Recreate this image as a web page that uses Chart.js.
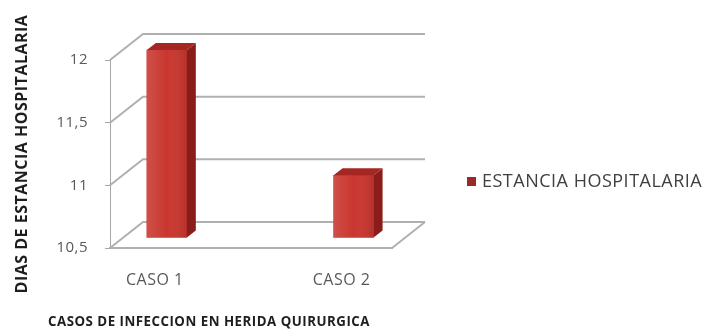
<!DOCTYPE html>
<html>
<head>
<meta charset="utf-8">
<script src="https://cdn.jsdelivr.net/npm/chart.js@4.4.1/dist/chart.umd.min.js"></script>
<style>
  html, body { margin: 0; padding: 0; background: #fff; }
</style>
</head>
<body>
<canvas id="estanciaChart" width="704" height="331"></canvas>
<script>
const categories = ["CASO 1", "CASO 2"];
const estanciaDias = [12, 11];
const seriesLabel = "ESTANCIA HOSPITALARIA";
const yTickValues = [10.5, 11, 11.5, 12];
const yTickLabels = ["10,5", "11", "11,5", "12"];
const yTitle = "DIAS DE ESTANCIA HOSPITALARIA";
const xTitle = "CASOS DE INFECCION EN HERIDA QUIRURGICA";

// fake 3d: back wall offset, bar shift into depth, bar thickness in depth
const wallDx = 33, wallDy = -26;
const barShiftX = 12, barShiftY = -10;
const barDepthX = 9, barDepthY = -7;

Chart.defaults.font.family = "'Open Sans', 'Liberation Sans', sans-serif";

const fake3d = {
  id: "fake3d",
  beforeUpdate(chart) {
    chart.ctx.letterSpacing = "0.5px";
  },
  beforeDraw(chart) {
    chart.ctx.letterSpacing = "0.5px";
  },
  beforeDatasetsDraw(chart) {
    const { ctx, chartArea: a, scales: { y } } = chart;
    ctx.save();
    ctx.strokeStyle = "#b0b0b0";
    ctx.lineWidth = 2;
    yTickValues.forEach((v) => {
      const py = y.getPixelForValue(v);
      ctx.beginPath();
      ctx.moveTo(a.left, py);
      ctx.lineTo(a.left + wallDx, py + wallDy);
      ctx.lineTo(a.right + wallDx, py + wallDy);
      ctx.stroke();
    });
    ctx.beginPath();
    ctx.moveTo(a.right, a.bottom);
    ctx.lineTo(a.right + wallDx, a.bottom + wallDy);
    ctx.stroke();
    ctx.restore();

    // bars sit in the middle of the depth
    ctx.save();
    ctx.translate(barShiftX, barShiftY);
  },
  afterDatasetsDraw(chart) {
    const { ctx } = chart;
    chart.getDatasetMeta(0).data.forEach((bar) => {
      const p = bar.getProps(["x", "y", "base", "width"], true);
      const l = p.x - p.width / 2, r = p.x + p.width / 2;
      // soft shading on the front face
      const g = ctx.createLinearGradient(l, 0, r, 0);
      g.addColorStop(0, "rgba(255,255,255,0.12)");
      g.addColorStop(0.5, "rgba(255,255,255,0)");
      g.addColorStop(1, "rgba(0,0,0,0.10)");
      ctx.fillStyle = g;
      ctx.fillRect(l, p.y, p.width, p.base - p.y);
      ctx.fillStyle = "#8a1d1a";
      ctx.beginPath();
      ctx.moveTo(r, p.y);
      ctx.lineTo(r + barDepthX, p.y + barDepthY);
      ctx.lineTo(r + barDepthX, p.base + barDepthY);
      ctx.lineTo(r, p.base);
      ctx.closePath();
      ctx.fill();
      ctx.fillStyle = "#a52622";
      ctx.beginPath();
      ctx.moveTo(l, p.y);
      ctx.lineTo(l + barDepthX, p.y + barDepthY);
      ctx.lineTo(r + barDepthX, p.y + barDepthY);
      ctx.lineTo(r, p.y);
      ctx.closePath();
      ctx.fill();
    });
    ctx.restore();
  },
  afterDraw(chart) {
    const { ctx } = chart;
    const ds = chart.data.datasets[0];
    ctx.save();
    // legend
    ctx.fillStyle = "#9a2a2a";
    ctx.fillRect(467, 177, 9, 9);
    ctx.fillStyle = "#404040";
    ctx.font = "18px 'Open Sans', sans-serif";
    ctx.textBaseline = "middle";
    ctx.fillText(ds.label, 482, 182);
    // x axis title
    ctx.fillStyle = "#1e1e1e";
    ctx.font = "bold 13.5px 'Open Sans', sans-serif";
    ctx.fillText(xTitle, 48, 322, 322);
    ctx.restore();
  }
};

new Chart(document.getElementById("estanciaChart"), {
  type: "bar",
  data: {
    datasets: [
      {
        label: seriesLabel,
        data: categories.map((c, i) => ({ x: i + 1, y: estanciaDias[i] })),
        base: yTickValues[0],
        backgroundColor: "#c9372f",
        barThickness: 40,
        clip: false,
      },
    ],
  },
  options: {
    responsive: false,
    animation: false,
    devicePixelRatio: 1,
    layout: { padding: { left: 13, top: 60, right: 312, bottom: 0 } },
    plugins: {
      legend: { display: false },
      tooltip: { enabled: false },
    },
    scales: {
      x: {
        type: "linear",
        offset: false,
        min: 0.76,
        max: 2.27,
        afterBuildTicks(scale) {
          scale.ticks = categories.map((c, i) => ({ value: i + 1 }));
        },
        afterFit(scale) {
          scale.height = 83;
        },
        ticks: {
          callback: (v) => categories[v - 1],
          color: "#595959",
          font: { size: 16 },
          padding: 23,
          maxRotation: 0,
        },
        grid: { display: false, drawTicks: false },
        border: { display: true, color: "#b0b0b0", width: 2 },
      },
      y: {
        min: 10.5,
        max: 12,
        afterBuildTicks(scale) {
          scale.ticks = yTickValues.map((v) => ({ value: v }));
        },
        afterFit(scale) {
          scale.width = 97;
        },
        ticks: {
          callback: (v) => yTickLabels[yTickValues.indexOf(v)],
          color: "#595959",
          font: { size: 15 },
          padding: 17,
        },
        grid: { drawOnChartArea: false, drawTicks: true, tickLength: 5, color: "#a6a6a6" },
        border: { display: true, color: "#a6a6a6", width: 1 },
        title: {
          display: true,
          text: yTitle,
          color: "#1e1e1e",
          font: { size: 16, weight: "bold" },
          padding: 0,
        },
      },
    },
  },
  plugins: [fake3d],
});
</script>
</body>
</html>
